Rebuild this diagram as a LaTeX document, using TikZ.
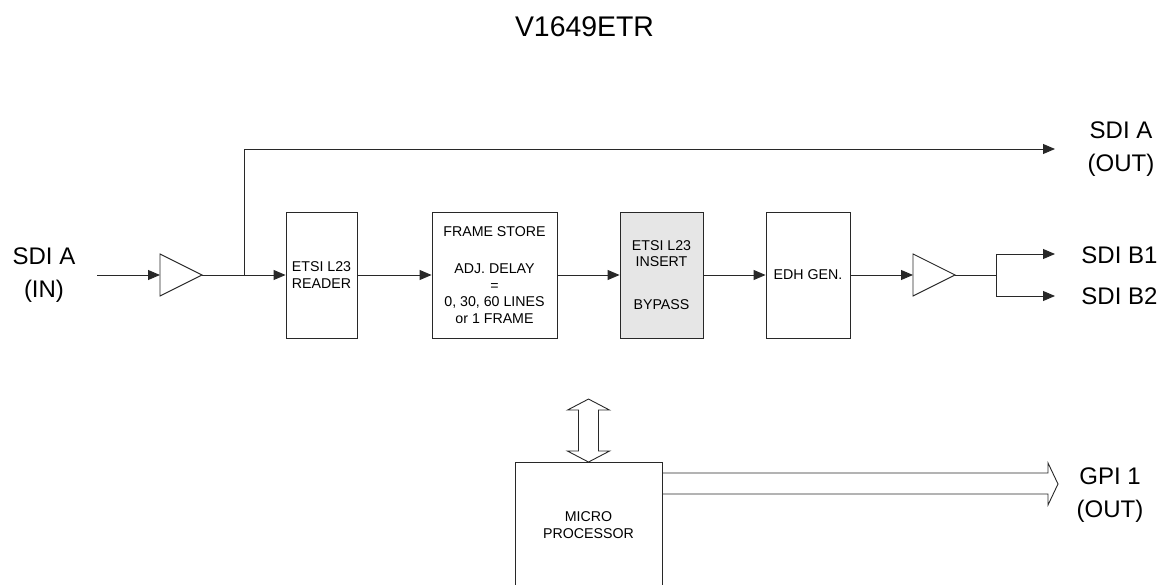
\documentclass[tikz,border=0pt]{standalone}
\usepackage{fontspec}
\setmainfont{Liberation Sans}
\usetikzlibrary{arrows.meta}
\begin{document}
\begin{tikzpicture}[x=1pt,y=-1pt,
  line width=0.9pt, draw={rgb,255:red,40;green,40;blue,40},
  blk/.style={draw, rectangle, inner sep=0pt, align=center, font=\fontsize{14.2}{16.5}\selectfont},
  sig/.style={-{Triangle[length=12pt,width=10pt]}},
  lbl/.style={align=center, font=\fontsize{24}{33}\selectfont, inner sep=0pt}]
\useasboundingbox (0,0) rectangle (1171,585);

% title
\node[font=\fontsize{28.4}{30}\selectfont, inner sep=0pt] (title) at (584.5,27) {V1649ETR};

% blocks
\node[blk, minimum width=71pt, minimum height=126pt] (reader) at (321.5,275) {ETSI L23\\READER};
\node[blk, minimum width=125pt, minimum height=126pt] (store) at (494.5,275)
  {FRAME STORE\\[21pt]ADJ. DELAY\\=\\0, 30, 60 LINES\\or 1 FRAME};
\node[blk, fill={rgb,255:red,230;green,230;blue,230}, minimum width=83pt, minimum height=126pt] (insert) at (661.5,275)
  {ETSI L23\\INSERT\\[26pt]BYPASS};
\node[blk, minimum width=84pt, minimum height=126pt] (edh) at (808,275) {EDH GEN.};
\node[blk, minimum width=147pt, minimum height=125pt] (micro) at (588.5,525) {MICRO\\PROCESSOR};

% amplifiers
\coordinate (a1in) at (160,275); \coordinate (a1out) at (202,275);
\draw (160,254) -- (202,275) -- (160,296) -- cycle;
\coordinate (a2in) at (913,275); \coordinate (a2out) at (955,275);
\draw (913,254) -- (955,275) -- (913,296) -- cycle;

% labels
\node[lbl] (inA) at (44,275) {SDI A\\(IN)};
\node[lbl] (outA) at (1121,149) {SDI A\\(OUT)};
\node[lbl, anchor=west] (b1) at (1081,255) {SDI B1};
\node[lbl, anchor=west] (b2) at (1081,296) {SDI B2};
\node[lbl] (gpi) at (1110,495) {GPI 1\\(OUT)};

% coordinates
\coordinate (inEnd) at (97,275);
\coordinate (split1) at (244,275);
\coordinate (topEnd) at (1055,149);
\coordinate (split2) at (996,275);
\coordinate (b1End) at (1055,254);
\coordinate (b2End) at (1055,296);

% connectors
\draw[sig] (inEnd) -- (a1in);
\draw (a1out) -- (split1);
\draw[sig] (split1) -- (reader.west);
\draw[sig] (split1) |- (topEnd);
\draw[sig] (reader.east) -- (store.west);
\draw[sig] (store.east) -- (insert.west);
\draw[sig] (insert.east) -- (edh.west);
\draw[sig] (edh.east) -- (a2in);
\draw (a2out) -- (split2);
\draw[sig] (split2 |- b1End) -- (b1End);
\draw[sig] (split2 |- b2End) -- (b2End);
\draw (split2 |- b1End) -- (split2 |- b2End);

% double arrow to micro
\draw (micro.north) -- ++(-21,-11) -- ++(11,0) -- ++(0,-41) -- ++(-11,0) -- ++(21,-11)
      -- ++(21,11) -- ++(-11,0) -- ++(0,41) -- ++(11,0) -- cycle;

% GPI fat arrow
\draw (micro.east |- 0,473) -- (1048,473) -- (1048,463) -- (1058,484) -- (1048,505) -- (1048,494) -- (micro.east |- 0,494);
\end{tikzpicture}
\end{document}
